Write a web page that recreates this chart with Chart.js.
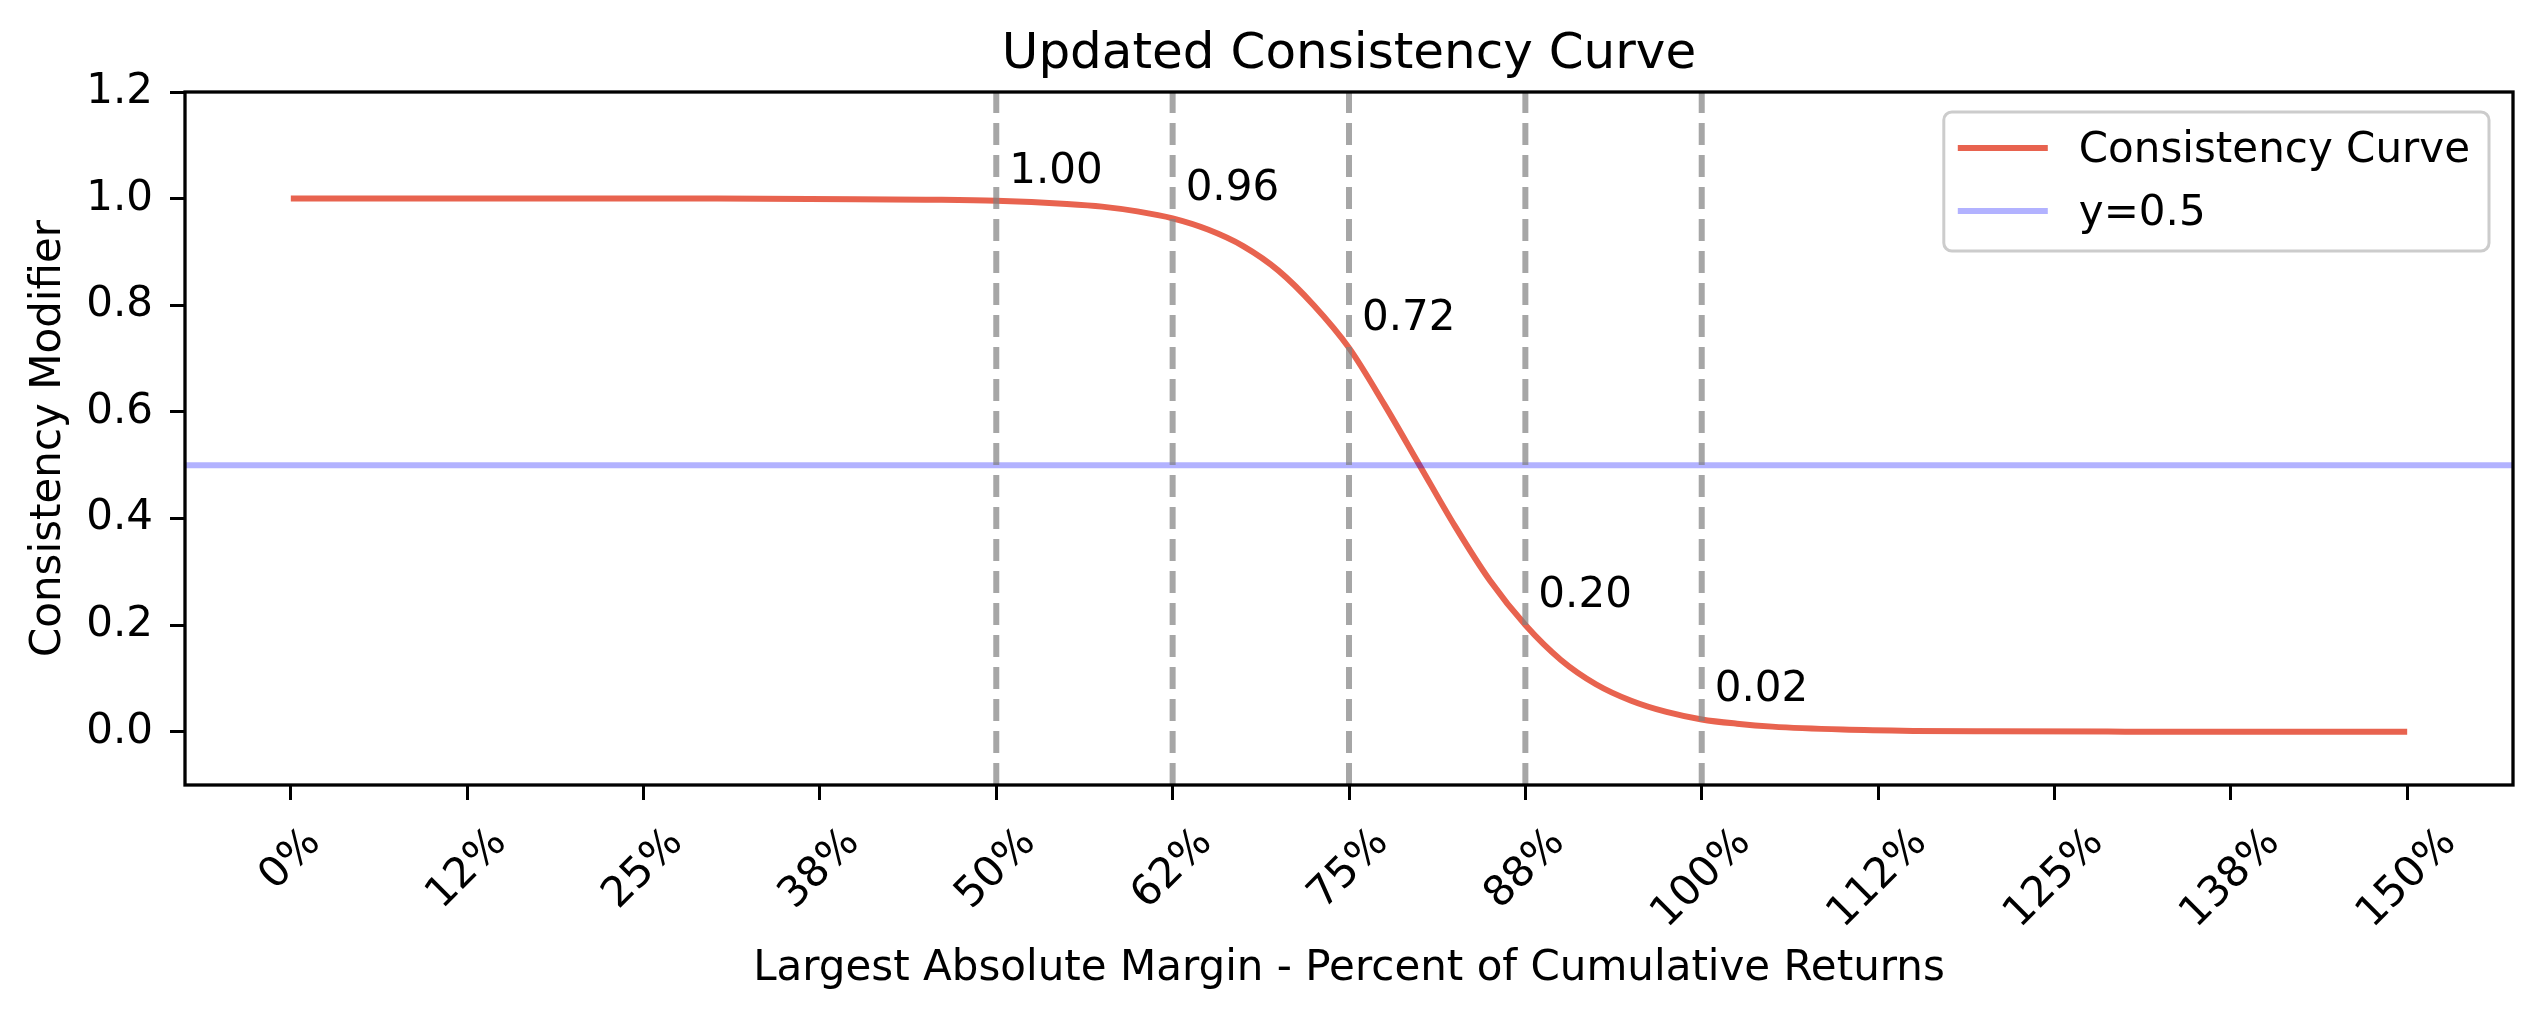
<!DOCTYPE html>
<html>
<head>
<meta charset="utf-8">
<script src="https://cdn.jsdelivr.net/npm/chart.js@4.4.0/dist/chart.umd.min.js"></script>
<style>
  body { margin: 0; background: #fff; }
  canvas { display: block; }
</style>
</head>
<body>
<canvas id="curve-chart" width="2539" height="1017"></canvas>
<script>
// Curve (x in percent of cumulative returns)
const curveX = [0, 10, 20, 30, 40, 45, 50, 55, 57.5, 60, 62.5, 65, 67.5, 70, 72.5, 75, 77.5, 80,
  82.5, 85, 87.5, 90, 92.5, 95, 97.5, 100, 102.5, 105, 110, 115, 120, 130, 140, 150];
const curveY = [1.0, 1.0, 1.0, 1.0, 0.999, 0.998, 0.996, 0.99, 0.985, 0.976, 0.963, 0.942, 0.911, 0.865, 0.80, 0.72, 0.614, 0.50,
  0.386, 0.283, 0.20, 0.135, 0.089, 0.058, 0.037, 0.023, 0.015, 0.0095, 0.004, 0.0015, 0.0006, 0.0001, 0, 0];

// Marked points (dashed lines + value labels)
const markerX = [50, 62.5, 75, 87.5, 100];
const markerY = [0.996, 0.963, 0.72, 0.20, 0.023];

const refLineY = 0.5;

const xTickValues = [0, 12.5, 25, 37.5, 50, 62.5, 75, 87.5, 100, 112.5, 125, 137.5, 150];
const xTickLabels = ['0%', '12%', '25%', '38%', '50%', '62%', '75%', '88%', '100%', '112%', '125%', '138%', '150%'];
const yTickValues = [0, 0.2, 0.4, 0.6, 0.8, 1.0, 1.2];
const yTickLabels = ['0.0', '0.2', '0.4', '0.6', '0.8', '1.0', '1.2'];

const FONT = "'DejaVu Sans', sans-serif";
const xMin = -7.5, xMax = 157.5, yMin = -0.1, yMax = 1.2;

const curveColor = '#e8634f';
const refColor = 'rgba(0, 0, 255, 0.3)';
const markerColor = 'rgba(128, 128, 128, 0.7)';

const datasets = [
  {
    label: 'Consistency Curve',
    data: curveX.map((x, i) => ({ x: x, y: curveY[i] })),
    borderColor: curveColor,
    borderWidth: 6,
    pointRadius: 0,
    cubicInterpolationMode: 'monotone',
    order: 3
  },
  {
    label: 'y=0.5',
    data: [{ x: xMin, y: refLineY }, { x: xMax, y: refLineY }],
    borderColor: refColor,
    borderWidth: 6,
    pointRadius: 0,
    order: 2
  }
];

markerX.forEach(x => {
  datasets.push({
    label: '',
    data: [{ x: x, y: yMin }, { x: x, y: yMax }],
    borderColor: markerColor,
    borderWidth: 6,
    borderDash: [22, 10],
    pointRadius: 0,
    order: 1
  });
});

// Frame, title, rotated x labels, value labels and the inset legend
const decorPlugin = {
  id: 'decor',
  afterDraw(chart) {
    const ctx = chart.ctx;
    const area = chart.chartArea;
    const xs = chart.scales.x;
    const ys = chart.scales.y;

    ctx.save();

    // value labels next to the dashed lines
    ctx.fillStyle = '#000';
    ctx.font = `42px ${FONT}`;
    ctx.textAlign = 'left';
    ctx.textBaseline = 'alphabetic';
    markerX.forEach((x, i) => {
      const px = xs.getPixelForValue(x) + 13;
      const py = ys.getPixelForValue(markerY[i] + 0.034);
      ctx.fillText(markerY[i].toFixed(2), px, py);
    });

    // axes frame
    ctx.strokeStyle = '#000';
    ctx.lineWidth = 3.3;
    ctx.strokeRect(area.left, area.top, area.right - area.left, area.bottom - area.top);

    // title
    ctx.font = `50px ${FONT}`;
    ctx.textAlign = 'center';
    ctx.fillText('Updated Consistency Curve', (area.left + area.right) / 2, area.top - 24);

    // rotated x tick labels, centred under each tick like matplotlib
    ctx.font = `42px ${FONT}`;
    ctx.textBaseline = 'middle';
    const labelTop = area.bottom + 34;
    const lineH = 49;
    xs.ticks.forEach((t, i) => {
      const label = xTickLabels[i];
      const w = ctx.measureText(label).width;
      const cx = xs.getPixelForValue(t.value);
      const cy = labelTop + (w + lineH) * Math.SQRT1_2 / 2;
      ctx.save();
      ctx.translate(cx, cy);
      ctx.rotate(-Math.PI / 4);
      ctx.fillText(label, 0, 0);
      ctx.restore();
    });

    // legend
    const items = chart.data.datasets.filter(d => d.label);
    ctx.textAlign = 'left';
    ctx.textBaseline = 'alphabetic';
    const textW = Math.max(...items.map(d => ctx.measureText(d.label).width));
    const boxW = 135 + textW + 19;
    const boxH = 139;
    const boxRight = area.right - 24;
    const boxLeft = boxRight - boxW;
    const boxTop = area.top + 20;
    ctx.beginPath();
    ctx.roundRect(boxLeft, boxTop, boxW, boxH, 8);
    ctx.fillStyle = 'rgba(255, 255, 255, 0.8)';
    ctx.fill();
    ctx.strokeStyle = '#cccccc';
    ctx.lineWidth = 3;
    ctx.stroke();

    items.forEach((d, i) => {
      const ly = boxTop + 36 + i * 63;
      ctx.beginPath();
      ctx.moveTo(boxLeft + 14, ly);
      ctx.lineTo(boxLeft + 104, ly);
      ctx.strokeStyle = d.borderColor;
      ctx.lineWidth = 6;
      ctx.stroke();
      ctx.fillStyle = '#000';
      ctx.fillText(d.label, boxLeft + 135, ly + 14);
    });

    ctx.restore();
  }
};

new Chart(document.getElementById('curve-chart'), {
  type: 'line',
  data: { datasets: datasets },
  options: {
    responsive: false,
    animation: false,
    devicePixelRatio: 1,
    layout: { padding: { top: 92, right: 26, left: 0, bottom: 0 } },
    plugins: {
      legend: { display: false },
      tooltip: { enabled: false },
      title: { display: false }
    },
    scales: {
      x: {
        type: 'linear',
        min: xMin,
        max: xMax,
        afterBuildTicks: scale => { scale.ticks = xTickValues.map(v => ({ value: v })); },
        afterFit: scale => { scale.height = 232; },
        ticks: { display: false },
        grid: { drawOnChartArea: false, drawTicks: true, tickLength: 15, tickColor: '#000', tickWidth: 3 },
        border: { display: false },
        title: {
          display: true,
          text: 'Largest Absolute Margin - Percent of Cumulative Returns',
          color: '#000',
          font: { family: FONT, size: 42 },
          padding: { top: 0, bottom: 23 }
        }
      },
      y: {
        type: 'linear',
        min: yMin,
        max: yMax,
        afterBuildTicks: scale => { scale.ticks = yTickValues.map(v => ({ value: v })); },
        afterFit: scale => { scale.width = 185; },
        ticks: {
          color: '#000',
          font: { family: FONT, size: 42 },
          padding: 17,
          callback: (v, i) => yTickLabels[i]
        },
        grid: { drawOnChartArea: false, drawTicks: true, tickLength: 15, tickColor: '#000', tickWidth: 3 },
        border: { display: false },
        title: {
          display: true,
          text: 'Consistency Modifier',
          color: '#000',
          font: { family: FONT, size: 42 },
          padding: { top: 24, bottom: 0 }
        }
      }
    }
  },
  plugins: [decorPlugin]
});
</script>
</body>
</html>
